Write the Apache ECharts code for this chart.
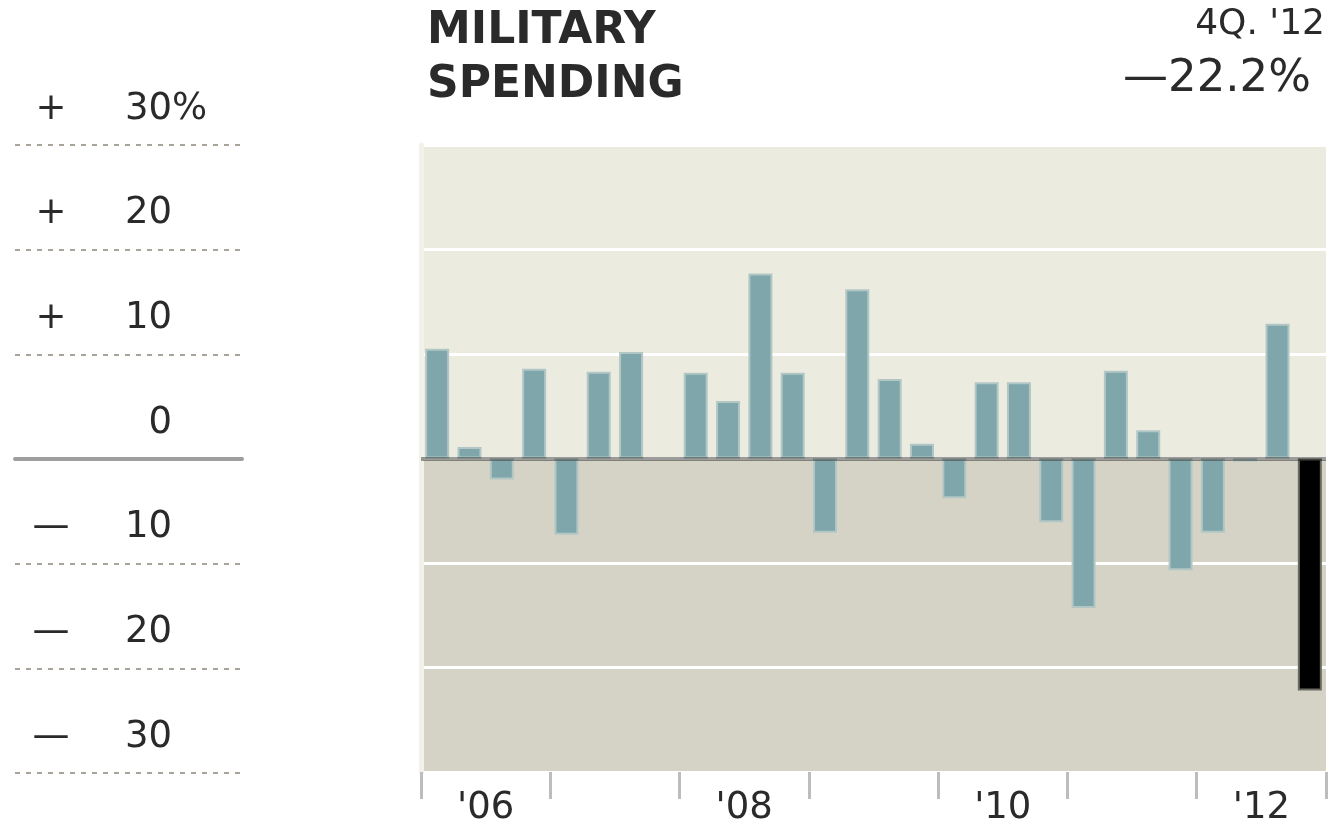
<!DOCTYPE html>
<html>
<head>
<meta charset="utf-8">
<script src="https://cdn.jsdelivr.net/npm/echarts@6/dist/echarts.min.js"></script>
<style>
html,body{margin:0;padding:0;background:#fff;}
#chart{width:1342px;height:827px;}
</style>
</head>
<body>
<div id="chart"></div>
<script>
const quarters = ['1Q06','2Q06','3Q06','4Q06','1Q07','2Q07','3Q07','4Q07',
                  '1Q08','2Q08','3Q08','4Q08','1Q09','2Q09','3Q09','4Q09',
                  '1Q10','2Q10','3Q10','4Q10','1Q11','2Q11','3Q11','4Q11',
                  '1Q12','2Q12','3Q12','4Q12'];
const values = [10.5, 1.1, -2.0, 8.6, -7.3, 8.3, 10.2, 0,
                8.2, 5.5, 17.7, 8.2, -7.1, 16.2, 7.6, 1.4,
                -3.8, 7.3, 7.3, -6.1, -14.3, 8.4, 2.7, -10.7,
                -7.1, -0.3, 12.9, -22.2];
const yearLabels = ["'06","'07","'08","'09","'10","'11","'12"];
const yTickValues = [-30, -20, -10, 0, 10, 20, 30];
const yTickSigns = ['—','—','—','','+','+','+'];
const yTickNums = ['30','20','10','0','10','20','30'];
const yTickUnits = ['','','','','','','%'];
const titleLines = ['MILITARY', 'SPENDING'];
const latestPeriod = "4Q. '12";
const latestValue = '—22.2%';

const FONT = 'DejaVu Sans';
const TXT = '#2a2a2a';
const UPPER = '#EBEBE0';
const LOWER = '#D5D3C5';
const BAR = '#7FA7AB';

const chart = echarts.init(document.getElementById('chart'), null, {renderer: 'canvas'});

const barData = values.map((v, i) => {
  if (i === values.length - 1) {
    return {value: v, itemStyle: {color: '#000', borderColor: '#6b6b63', borderWidth: 2}};
  }
  if (v === 0) {
    return {value: v, itemStyle: {borderWidth: 0}};
  }
  return v;
});

chart.setOption({
  animation: false,
  backgroundColor: '#ffffff',
  title: [
    {text: titleLines.join('\n'), left: 422, top: 0,
     textStyle: {fontFamily: FONT, fontSize: 44, fontWeight: 'bold', color: TXT, lineHeight: 54}},
    {text: latestPeriod, right: 12, top: 2,
     textStyle: {fontFamily: FONT, fontSize: 36, fontWeight: 'normal', color: TXT}},
    {text: latestValue, right: 26, top: 52,
     textStyle: {fontFamily: FONT, fontSize: 45, fontWeight: 'normal', color: TXT}}
  ],
  grid: [
    {left: 421, right: 16, top: 145, bottom: 54},
    {left: 15, right: 1100, top: 145, bottom: 54}
  ],
  xAxis: [
    {type: 'category', gridIndex: 0, data: quarters, show: false,
     axisLine: {onZero: false}},
    {type: 'category', gridIndex: 0, data: yearLabels, position: 'bottom',
     axisLine: {show: false, onZero: false},
     axisTick: {show: true, interval: 0, length: 27, lineStyle: {color: '#BDBDBD', width: 3}},
     axisLabel: {interval: 1, margin: 18, fontFamily: FONT, fontSize: 37, color: TXT},
     splitLine: {show: false}},
    {type: 'value', gridIndex: 1,
     axisLine: {show: true, onZero: true, lineStyle: {color: '#9E9E9E', width: 4}},
     axisTick: {show: false}, axisLabel: {show: false}, splitLine: {show: false}}
  ],
  yAxis: [
    {type: 'value', gridIndex: 0, min: -30, max: 30, interval: 10,
     axisLabel: {show: false}, axisTick: {show: false},
     axisLine: {show: true, lineStyle: {color: '#F2F2EB', width: 5}},
     splitLine: {show: true, lineStyle: {color: '#ffffff', width: 3}},
     splitArea: {show: true, areaStyle: {color: [LOWER, LOWER, LOWER, UPPER, UPPER, UPPER]}}},
    {type: 'value', gridIndex: 1, min: -30, max: 30, interval: 10,
     axisLine: {show: false}, axisTick: {show: false},
     splitLine: {show: true, lineStyle: {color: '#A8A49A', width: 2, type: [5, 6]}},
     axisLabel: {
       inside: true, margin: 13, align: 'left', verticalAlign: 'middle',
       padding: [0, 0, 72, 0],
       formatter: function (v) {
         const i = yTickValues.indexOf(v);
         if (i < 0) return '';
         const s = yTickSigns[i] || '\u00a0';
         const u = yTickUnits[i];
         return '{s|' + s + '}{n|' + yTickNums[i] + '}' + (u ? '{p|' + u + '}' : '');
       },
       rich: {
         s: {width: 46, align: 'center', fontFamily: FONT, fontSize: 37, color: TXT},
         n: {width: 98, align: 'right', fontFamily: FONT, fontSize: 37, color: TXT},
         p: {align: 'right', fontFamily: FONT, fontSize: 37, color: TXT}
       }
     }}
  ],
  series: [
    {type: 'bar', xAxisIndex: 0, yAxisIndex: 0, data: barData, barWidth: 24,
     itemStyle: {color: BAR, borderColor: '#B2C7C5', borderWidth: 2},
     markLine: {silent: true, symbol: 'none', label: {show: false},
       lineStyle: {color: 'rgba(0,0,0,0.39)', width: 4, type: 'solid'},
       data: [{yAxis: 0}]}}
  ]
});
</script>
</body>
</html>
